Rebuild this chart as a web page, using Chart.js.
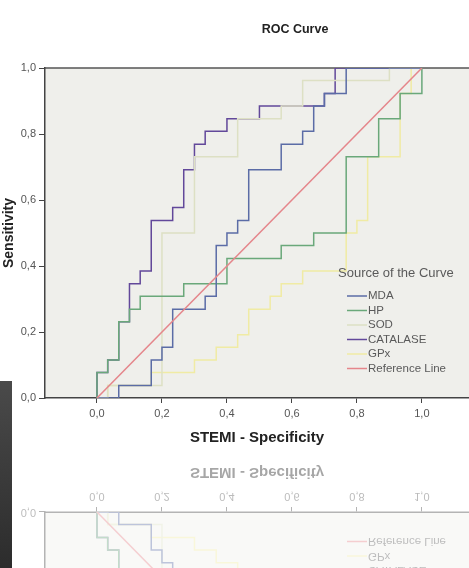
<!DOCTYPE html>
<html>
<head>
<meta charset="utf-8">
<script src="https://cdn.jsdelivr.net/npm/chart.js@4"></script>
<style>
  html, body { margin: 0; padding: 0; background: #fff; }
  #page { position: relative; width: 469px; height: 568px; overflow: hidden; background: #fff; }
  .fig { position: absolute; left: 0; width: 469px; height: 455px; }
  #figMain { top: 0; }
  #figMirror { top: 455px; transform: scaleY(-1); opacity: 0.4; }
  #edge { position: absolute; left: 0; top: 381px; width: 12px; height: 187px;
          background: linear-gradient(#4a4a4a, #2c2c2c); }
</style>
</head>
<body>
<div id="page">
  <div class="fig" id="figMain"><canvas id="roc" width="469" height="455"></canvas></div>
  <div class="fig" id="figMirror"><canvas id="rocMirror" width="469" height="455"></canvas></div>
  <div id="edge"></div>
</div>
<script>
// --- data: 1 - specificity (x) and sensitivity (y) for each curve ---
const seriesNames = ['MDA', 'HP', 'SOD', 'CATALASE', 'GPx', 'Reference Line'];

const fprMDA = [0, 0.067, 0.067, 0.167, 0.167, 0.2, 0.2, 0.233, 0.233, 0.333, 0.333, 0.367, 0.367, 0.4, 0.4, 0.433, 0.433, 0.467, 0.467, 0.567, 0.567, 0.633, 0.633, 0.667, 0.667, 0.7, 0.7, 0.767, 0.767, 1];
const tprMDA = [0, 0, 0.038, 0.038, 0.115, 0.115, 0.154, 0.154, 0.269, 0.269, 0.308, 0.308, 0.462, 0.462, 0.5, 0.5, 0.538, 0.538, 0.692, 0.692, 0.769, 0.769, 0.808, 0.808, 0.885, 0.885, 0.923, 0.923, 1, 1];

const fprHP = [0, 0, 0.033, 0.033, 0.067, 0.067, 0.1, 0.1, 0.133, 0.133, 0.267, 0.267, 0.4, 0.4, 0.567, 0.567, 0.667, 0.667, 0.767, 0.767, 0.867, 0.867, 0.933, 0.933, 1, 1];
const tprHP = [0, 0.077, 0.077, 0.115, 0.115, 0.231, 0.231, 0.269, 0.269, 0.308, 0.308, 0.346, 0.346, 0.423, 0.423, 0.462, 0.462, 0.5, 0.5, 0.731, 0.731, 0.846, 0.846, 0.923, 0.923, 1];

const fprSOD = [0, 0.033, 0.033, 0.2, 0.2, 0.3, 0.3, 0.433, 0.433, 0.567, 0.567, 0.633, 0.633, 0.9, 0.9, 1];
const tprSOD = [0, 0, 0.038, 0.038, 0.5, 0.5, 0.731, 0.731, 0.846, 0.846, 0.885, 0.885, 0.962, 0.962, 1, 1];

const fprCAT = [0, 0, 0.033, 0.033, 0.067, 0.067, 0.1, 0.1, 0.133, 0.133, 0.167, 0.167, 0.233, 0.233, 0.267, 0.267, 0.3, 0.3, 0.333, 0.333, 0.4, 0.4, 0.5, 0.5, 0.7, 0.7, 0.733, 0.733, 1];
const tprCAT = [0, 0.077, 0.077, 0.115, 0.115, 0.231, 0.231, 0.346, 0.346, 0.385, 0.385, 0.538, 0.538, 0.577, 0.577, 0.692, 0.692, 0.769, 0.769, 0.808, 0.808, 0.846, 0.846, 0.885, 0.885, 0.923, 0.923, 1, 1];

const fprGPX = [0, 0.033, 0.033, 0.167, 0.167, 0.3, 0.3, 0.367, 0.367, 0.433, 0.433, 0.467, 0.467, 0.533, 0.533, 0.567, 0.567, 0.633, 0.633, 0.767, 0.767, 0.8, 0.8, 0.833, 0.833, 0.933, 0.933, 0.967, 0.967, 1];
const tprGPX = [0, 0, 0.038, 0.038, 0.077, 0.077, 0.115, 0.115, 0.154, 0.154, 0.192, 0.192, 0.269, 0.269, 0.308, 0.308, 0.346, 0.346, 0.385, 0.385, 0.5, 0.5, 0.538, 0.538, 0.731, 0.731, 0.923, 0.923, 1, 1];

const fprRef = [0, 1];
const tprRef = [0, 1];

const xTicks = [0, 0.2, 0.4, 0.6, 0.8, 1.0];
const yTicks = [0, 0.2, 0.4, 0.6, 0.8, 1.0];

const colors = ['#5b6ca6', '#6aa87a', '#dde0c4', '#62489a', '#f0eba4', '#e5868b'];

Chart.defaults.font.family = '"Liberation Sans", Arial, sans-serif';

function toPoints(xs, ys) {
  return xs.map((x, i) => ({x: x, y: ys[i]}));
}

function commaLabel(v) {
  return Number(v).toFixed(1).replace('.', ',');
}

// plot background, frame top line, legend and title drawn on the canvas
const spssFrame = {
  id: 'spssFrame',
  beforeDraw(chart) {
    const {ctx, chartArea: a} = chart;
    ctx.save();
    ctx.fillStyle = '#efefeb';
    ctx.fillRect(a.left, a.top, a.right - a.left, a.bottom - a.top);
    ctx.strokeStyle = '#555';
    ctx.lineWidth = 1.5;
    ctx.beginPath();
    ctx.moveTo(a.left, a.top);
    ctx.lineTo(a.right, a.top);
    ctx.stroke();
    ctx.restore();
  },
  afterDraw(chart) {
    const {ctx, chartArea: a} = chart;
    ctx.save();
    ctx.textBaseline = 'middle';
    // chart title
    ctx.fillStyle = '#222';
    ctx.font = 'bold 12.5px "Liberation Sans", Arial, sans-serif';
    ctx.textAlign = 'center';
    ctx.fillText('ROC Curve', a.left + 250, 30);
    // legend
    ctx.textAlign = 'left';
    ctx.fillStyle = '#5a5a5a';
    ctx.font = '13px "Liberation Sans", Arial, sans-serif';
    ctx.fillText('Source of the Curve', a.left + 293, a.top + 205);
    ctx.font = '11.5px "Liberation Sans", Arial, sans-serif';
    chart.data.datasets.forEach((ds, i) => {
      const y = a.top + 228 + i * 14.5;
      ctx.strokeStyle = ds.borderColor;
      ctx.lineWidth = 1.5;
      ctx.beginPath();
      ctx.moveTo(a.left + 302, y);
      ctx.lineTo(a.left + 322, y);
      ctx.stroke();
      ctx.fillStyle = '#5a5a5a';
      ctx.fillText(ds.label, a.left + 323, y);
    });
    ctx.restore();
  }
};

function makeConfig() {
  const xs = [fprMDA, fprHP, fprSOD, fprCAT, fprGPX, fprRef];
  const ys = [tprMDA, tprHP, tprSOD, tprCAT, tprGPX, tprRef];
  return {
    type: 'scatter',
    data: {
      datasets: seriesNames.map((name, i) => ({
        label: name,
        data: toPoints(xs[i], ys[i]),
        showLine: true,
        borderColor: colors[i],
        backgroundColor: colors[i],
        borderWidth: 1.5,
        pointRadius: 0,
        order: name === 'Reference Line' ? 0 : 1
      }))
    },
    options: {
      responsive: false,
      animation: false,
      layout: { padding: { top: 68, left: 0, right: 0, bottom: 0 } },
      plugins: {
        legend: { display: false },
        title: { display: false },
        tooltip: { enabled: false }
      },
      scales: {
        x: {
          type: 'linear',
          min: -0.16,
          max: 1.145,
          afterBuildTicks: (s) => { s.ticks = xTicks.map(v => ({value: v})); },
          afterFit: (s) => { s.height = 57; },
          ticks: {
            color: '#555',
            font: { size: 11 },
            padding: 4,
            callback: (v) => commaLabel(v)
          },
          grid: { drawOnChartArea: false, drawTicks: true, tickLength: 5, color: '#444' },
          border: { display: true, color: '#444', width: 1.5 },
          title: {
            display: true,
            text: 'STEMI - Specificity',
            color: '#222',
            font: { size: 15, weight: 'bold' },
            padding: { top: 0, bottom: 8 }
          }
        },
        y: {
          type: 'linear',
          min: 0,
          max: 1,
          afterBuildTicks: (s) => { s.ticks = yTicks.map(v => ({value: v})); },
          afterFit: (s) => { s.width = 45; },
          ticks: {
            color: '#555',
            font: { size: 11 },
            padding: 3,
            callback: (v) => commaLabel(v)
          },
          grid: { drawOnChartArea: false, drawTicks: true, tickLength: 6, color: '#444' },
          border: { display: true, color: '#444', width: 1.5 },
          title: {
            display: true,
            text: 'Sensitivity',
            color: '#222',
            font: { size: 14, weight: 'bold' },
            padding: { top: 1, bottom: 0 }
          }
        }
      }
    },
    plugins: [spssFrame]
  };
}

new Chart(document.getElementById('roc'), makeConfig());
// the photographed page shows a faint mirror image below the chart
new Chart(document.getElementById('rocMirror'), makeConfig());
</script>
</body>
</html>
